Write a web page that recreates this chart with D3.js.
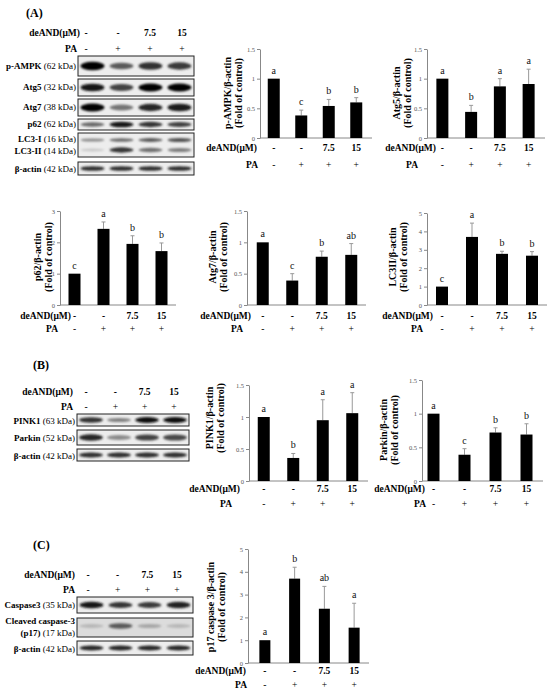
<!DOCTYPE html>
<html>
<head>
<meta charset="utf-8">
<script src="https://cdn.jsdelivr.net/npm/d3@7"></script>
<style>
  body { margin: 0; background: #fff; }
  text { font-family: "Liberation Serif", "Times New Roman", serif; }
</style>
</head>
<body>
<svg id="fig" width="550" height="696"></svg>
<script>
// treatment rows shared by every panel
const deandLabels = ["-", "-", "7.5", "15"];
const paLabels = ["-", "+", "+", "+"];

// bar values (fold of control), error (SD, upward) and letters
const pampkVal = [1.00, 0.38, 0.54, 0.60];
const pampkErr = [0.00, 0.09, 0.11, 0.08];
const pampkSig = ["a", "c", "b", "b"];

const atg5Val = [1.00, 0.44, 0.87, 0.91];
const atg5Err = [0.00, 0.11, 0.13, 0.25];
const atg5Sig = ["a", "b", "a", "a"];

const p62Val = [1.00, 2.43, 1.95, 1.72];
const p62Err = [0.00, 0.22, 0.26, 0.26];
const p62Sig = ["c", "a", "b", "b"];

const atg7Val = [1.00, 0.39, 0.77, 0.80];
const atg7Err = [0.00, 0.11, 0.09, 0.18];
const atg7Sig = ["a", "c", "b", "ab"];

const lc3Val = [1.00, 3.70, 2.78, 2.68];
const lc3Err = [0.00, 0.75, 0.14, 0.22];
const lc3Sig = ["c", "a", "b", "b"];

const pink1Val = [1.00, 0.36, 0.95, 1.06];
const pink1Err = [0.00, 0.07, 0.32, 0.32];
const pink1Sig = ["a", "b", "a", "a"];

const parkinVal = [1.00, 0.39, 0.72, 0.69];
const parkinErr = [0.00, 0.09, 0.07, 0.16];
const parkinSig = ["a", "c", "b", "b"];

const p17Val = [1.00, 3.70, 2.38, 1.55];
const p17Err = [0.00, 0.50, 0.98, 1.07];
const p17Sig = ["a", "b", "ab", "a"];

// blot band intensities per lane (0 = none, 1 = darkest)
const bandPAMPK = [1.00, 0.62, 0.80, 0.76];
const bandAtg5 = [0.92, 0.72, 1.00, 1.00];
const bandAtg7 = [1.00, 0.50, 0.85, 0.90];
const bandP62 = [0.55, 0.92, 0.78, 0.74];
const bandLC3I = [0.40, 0.55, 0.62, 0.66];
const bandLC3II = [0.12, 0.78, 0.52, 0.46];
const bandActinA = [0.82, 0.82, 0.82, 0.82];
const bandPINK1 = [0.80, 0.45, 0.95, 0.95];
const bandParkin = [0.85, 0.40, 0.72, 0.70];
const bandActinB = [0.82, 0.82, 0.82, 0.82];
const bandCasp3 = [0.92, 0.78, 0.76, 0.86];
const bandCleaved = [0.20, 0.62, 0.28, 0.20];
const bandActinC = [0.85, 0.85, 0.85, 0.85];

const svg = d3.select("#fig");

const defs = svg.append("defs");
defs.append("filter").attr("id", "blur").attr("x", "-30%").attr("y", "-80%")
  .attr("width", "160%").attr("height", "260%")
  .append("feGaussianBlur").attr("stdDeviation", 1.1);

const shade = d3.scaleLinear().domain([0, 1]).range(["#e4e4e4", "#050505"]);

// panel letters
function panelLetter(txt, x, y) {
  svg.append("text").attr("x", x).attr("y", y)
    .style("font-size", "12px").style("font-weight", "bold").text(txt);
}
panelLetter("(A)", 26, 17);
panelLetter("(B)", 33, 369);
panelLetter("(C)", 33, 549);

// deAND / PA header rows
function treatRows(o) {
  const x = d3.scalePoint().domain(d3.range(4)).range(o.xr);
  const g = svg.append("g").style("font-size", "9.5px").style("font-weight", "bold");
  g.append("text").attr("x", o.labelRight).attr("y", o.y1).attr("text-anchor", "end").text("deAND(μM)");
  g.append("text").attr("x", o.paRight ?? o.labelRight).attr("y", o.y2).attr("text-anchor", "end").text("PA");
  g.selectAll(null).data(deandLabels).enter().append("text")
    .attr("x", (d, i) => x(i)).attr("y", o.y1).attr("text-anchor", "middle").text(d => d);
  g.selectAll(null).data(paLabels).enter().append("text")
    .attr("x", (d, i) => x(i)).attr("y", o.y2).attr("text-anchor", "middle")
    .style("font-weight", "normal").text(d => d);
}

// one western blot strip
function blotStrip(o) {
  const lane = d3.scalePoint().domain(d3.range(4)).range(o.xr).padding(0.5);
  const g = svg.append("g");
  g.append("rect").attr("x", o.xr[0]).attr("y", o.y[0])
    .attr("width", o.xr[1] - o.xr[0]).attr("height", o.y[1] - o.y[0])
    .attr("fill", o.bg || "#ededed");
  const bands = g.append("g").attr("filter", "url(#blur)");
  o.rows.forEach(r => {
    bands.selectAll(null).data(r.vals).enter().append("ellipse")
      .attr("cx", (d, i) => lane(i))
      .attr("cy", r.cy)
      .attr("rx", r.rx || 12)
      .attr("ry", d => (r.h || 3.2) * (0.45 + 0.55 * d))
      .attr("fill", d => shade(d));
  });
  g.append("rect").attr("x", o.xr[0]).attr("y", o.y[0])
    .attr("width", o.xr[1] - o.xr[0]).attr("height", o.y[1] - o.y[0])
    .attr("fill", "none").attr("stroke", "#222").attr("stroke-width", 1);
  o.labels.forEach(l => {
    const t = svg.append("text").attr("x", o.xr[0] - 2).attr("y", l.y)
      .attr("text-anchor", "end").style("font-size", "9px");
    t.append("tspan").style("font-weight", "bold").text(l.name);
    if (l.kda) t.append("tspan").text(" " + l.kda);
  });
}

// panel A blots
treatRows({ xr: [86, 182], labelRight: 80, paRight: 77, y1: 36, y2: 52 });
blotStrip({ xr: [78, 194], y: [56, 76], rows: [{ vals: bandPAMPK, cy: 66, h: 4.2 }],
  labels: [{ name: "p-AMPK", kda: "(62 kDa)", y: 69 }] });
blotStrip({ xr: [78, 194], y: [79, 96], rows: [{ vals: bandAtg5, cy: 87.5, h: 4 }],
  labels: [{ name: "Atg5", kda: "(32 kDa)", y: 90 }] });
blotStrip({ xr: [78, 194], y: [99, 116], rows: [{ vals: bandAtg7, cy: 107.5, h: 4 }],
  labels: [{ name: "Atg7", kda: "(38 kDa)", y: 110 }] });
blotStrip({ xr: [78, 194], y: [119, 130], rows: [{ vals: bandP62, cy: 124.5, h: 3 }],
  labels: [{ name: "p62", kda: "(62 kDa)", y: 127 }] });
blotStrip({ xr: [78, 194], y: [133, 157],
  rows: [{ vals: bandLC3I, cy: 140, h: 2.4 }, { vals: bandLC3II, cy: 150, h: 3 }],
  labels: [{ name: "LC3-I", kda: "(16 kDa)", y: 142 }, { name: "LC3-II", kda: "(14 kDa)", y: 154 }] });
blotStrip({ xr: [78, 194], y: [162, 175], rows: [{ vals: bandActinA, cy: 168.5, h: 2.6 }],
  labels: [{ name: "β-actin", kda: "(42 kDa)", y: 172 }] });

// panel B blots
treatRows({ xr: [86, 174], labelRight: 73, y1: 395, y2: 410 });
blotStrip({ xr: [77, 189], y: [414, 426], rows: [{ vals: bandPINK1, cy: 420, h: 3 }],
  labels: [{ name: "PINK1", kda: "(63 kDa)", y: 423.5 }] });
blotStrip({ xr: [77, 189], y: [430, 445], rows: [{ vals: bandParkin, cy: 437.5, h: 3.6 }],
  labels: [{ name: "Parkin", kda: "(52 kDa)", y: 441 }] });
blotStrip({ xr: [77, 189], y: [449, 461], rows: [{ vals: bandActinB, cy: 455, h: 2.8 }],
  labels: [{ name: "β-actin", kda: "(42 kDa)", y: 458.5 }] });

// panel C blots
treatRows({ xr: [88, 177], labelRight: 75, y1: 578, y2: 593 });
blotStrip({ xr: [77, 193], y: [597, 613], rows: [{ vals: bandCasp3, cy: 605, h: 3.4 }],
  labels: [{ name: "Caspase3", kda: "(35 kDa)", y: 608 }] });
blotStrip({ xr: [77, 193], y: [618, 637], bg: "#dcdcdc", rows: [{ vals: bandCleaved, cy: 626, h: 3.4 }],
  labels: [{ name: "Cleaved caspase-3", y: 624 }, { name: "(p17)", kda: " (17 kDa)", y: 636 }] });
blotStrip({ xr: [77, 193], y: [641, 655], rows: [{ vals: bandActinC, cy: 648, h: 2.8 }],
  labels: [{ name: "β-actin", kda: "(42 kDa)", y: 651.5 }] });

// bar charts
function barChart(c) {
  const g = svg.append("g");
  const y = d3.scaleLinear().domain([0, c.max]).range([c.y0, c.yTop]);
  const x = d3.scalePoint().domain(d3.range(4)).range(c.xr).padding(0.5);
  const bw = c.bw || 12;

  const ax = g.append("g").attr("transform", `translate(${c.ax},0)`)
    .call(d3.axisLeft(y).tickValues(c.ticks).tickSize(3).tickSizeOuter(0)
      .tickPadding(2).tickFormat(d3.format("")));
  ax.select(".domain").attr("stroke", "#888");
  ax.selectAll(".tick line").attr("stroke", "#888");
  ax.selectAll(".tick text").attr("fill", "#555")
    .style("font-family", "'Liberation Serif', serif").style("font-size", "6.5px");

  g.append("line").attr("x1", c.ax).attr("x2", c.xEnd)
    .attr("y1", y(0)).attr("y2", y(0)).attr("stroke", "#888");

  const data = c.vals.map((v, i) => ({ i, v, e: c.err[i], s: c.sig[i] }));

  g.selectAll(null).data(data).enter().append("line")
    .attr("x1", d => x(d.i)).attr("x2", d => x(d.i))
    .attr("y1", d => y(d.v)).attr("y2", d => y(d.v + d.e))
    .attr("stroke", "#999");
  g.selectAll(null).data(data.filter(d => d.e > 0)).enter().append("line")
    .attr("x1", d => x(d.i) - 2).attr("x2", d => x(d.i) + 2)
    .attr("y1", d => y(d.v + d.e)).attr("y2", d => y(d.v + d.e))
    .attr("stroke", "#999");

  g.selectAll(null).data(data).enter().append("rect")
    .attr("x", d => x(d.i) - bw / 2).attr("width", bw)
    .attr("y", d => y(d.v)).attr("height", d => y(0) - y(d.v))
    .attr("fill", "#000");

  g.selectAll(null).data(data).enter().append("text")
    .attr("x", d => x(d.i)).attr("y", d => y(d.v + d.e) - 5)
    .attr("text-anchor", "middle").style("font-size", "10px").attr("fill", "#111")
    .text(d => d.s);

  const yl = g.append("text")
    .attr("transform", `translate(${c.lx},${c.ly}) rotate(-90)`)
    .attr("text-anchor", "middle").style("font-size", "10px").style("font-weight", "bold");
  yl.append("tspan").attr("x", 0).attr("dy", 0).text(c.ylabel);
  yl.append("tspan").attr("x", 0).attr("dy", 10.5).text("(Fold of control)");

  treatRows({ xr: [x(0), x(3)], labelRight: c.labelRight, paRight: c.paRight, y1: c.y1, y2: c.y2 });
}

const tick15 = [0, 0.5, 1, 1.5];

barChart({ vals: pampkVal, err: pampkErr, sig: pampkSig, max: 1.5, ticks: tick15,
  ax: 260, xr: [260, 370], xEnd: 372, y0: 138, yTop: 49, ylabel: "p-AMPK/β-actin",
  lx: 231, ly: 93, labelRight: 257, paRight: 258, y1: 151, y2: 168 });
barChart({ vals: atg5Val, err: atg5Err, sig: atg5Sig, max: 1.5, ticks: tick15,
  ax: 427, xr: [428, 543], xEnd: 545, y0: 138, yTop: 49, ylabel: "Atg5/β-actin",
  lx: 400, ly: 93, labelRight: 436, paRight: 418, y1: 151, y2: 168 });

barChart({ vals: p62Val, err: p62Err, sig: p62Sig, max: 3, ticks: [0, 1, 2, 3],
  ax: 60, xr: [60, 176], xEnd: 176, y0: 305, yTop: 211, ylabel: "p62/β-actin",
  lx: 41, ly: 257, labelRight: 71, paRight: 58, y1: 319, y2: 332 });
barChart({ vals: atg7Val, err: atg7Err, sig: atg7Sig, max: 1.5, ticks: tick15,
  ax: 247, xr: [248, 366], xEnd: 366, y0: 305, yTop: 211, ylabel: "Atg7/β-actin",
  lx: 216, ly: 257, labelRight: 251, paRight: 243, y1: 319, y2: 332 });
barChart({ vals: lc3Val, err: lc3Err, sig: lc3Sig, max: 5, ticks: [0, 1, 2, 3, 4, 5],
  ax: 427, xr: [427, 547], xEnd: 547, y0: 305, yTop: 213, ylabel: "LC3II/β-actin",
  lx: 396, ly: 257, labelRight: 433, paRight: 423, y1: 319, y2: 332 });

barChart({ vals: pink1Val, err: pink1Err, sig: pink1Sig, max: 1.5, ticks: tick15,
  ax: 249, xr: [249, 367], xEnd: 368, y0: 481, yTop: 385, ylabel: "PINK1/β-actin",
  lx: 213, ly: 418, labelRight: 240, paRight: 232, y1: 492, y2: 507 });
barChart({ vals: parkinVal, err: parkinErr, sig: parkinSig, max: 1.5, ticks: tick15,
  ax: 422, xr: [418, 542], xEnd: 543, y0: 481, yTop: 380, ylabel: "Parkin/β-actin",
  lx: 387, ly: 430, labelRight: 425, paRight: 426, y1: 492, y2: 507 });

barChart({ vals: p17Val, err: p17Err, sig: p17Sig, max: 5, ticks: [0, 1, 2, 3, 4, 5],
  ax: 248, xr: [250, 369], xEnd: 369, y0: 663, yTop: 549, ylabel: "p17 caspase 3/β-actin",
  lx: 214, ly: 607, bw: 11, labelRight: 246, paRight: 247, y1: 674, y2: 688 });
</script>
</body>
</html>
